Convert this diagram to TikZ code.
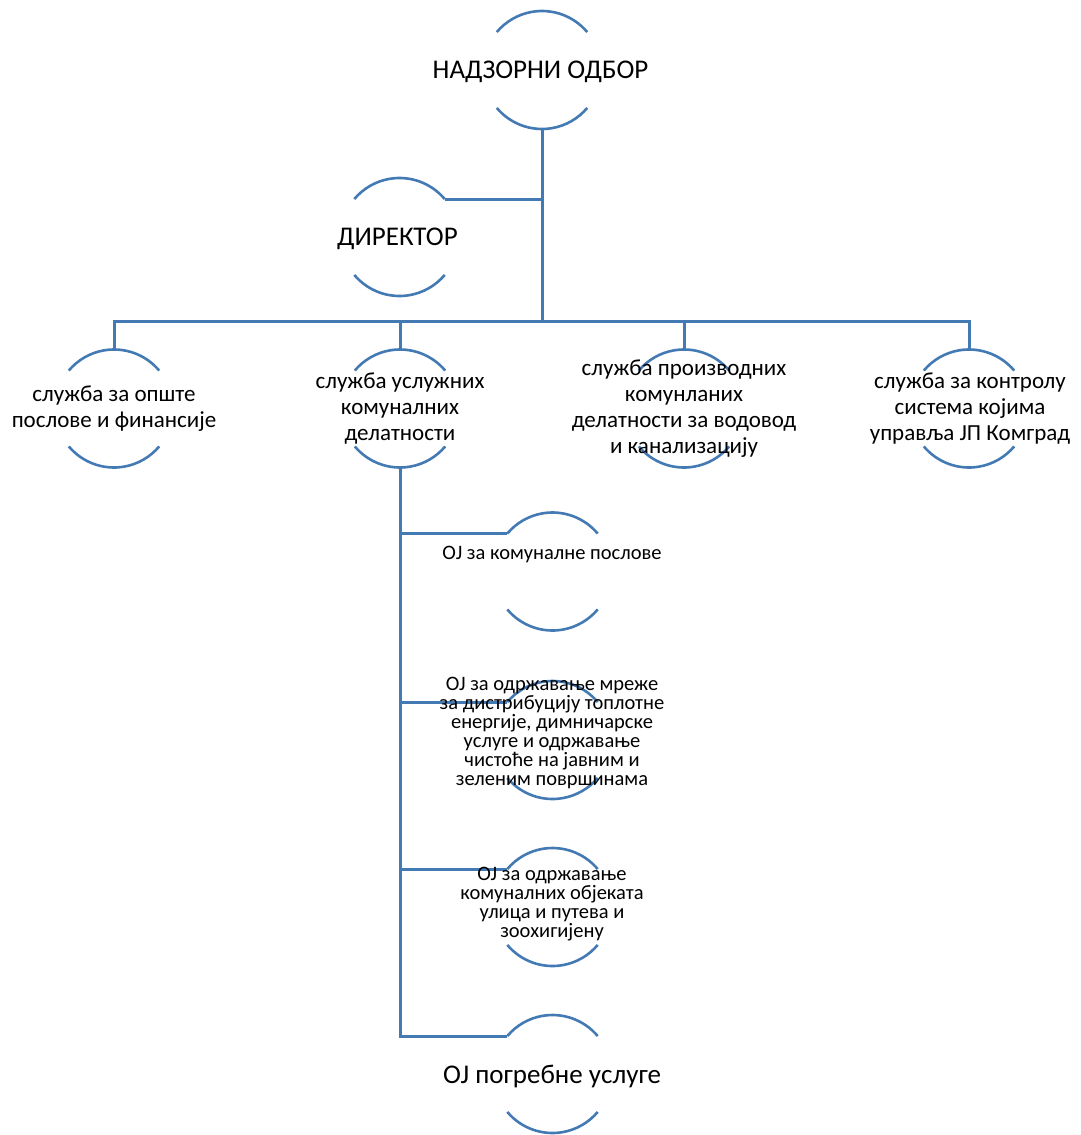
\documentclass[tikz,border=0pt]{standalone}
\usepackage{fontspec}
\setmainfont{Carlito}
\usetikzlibrary{calc}
\definecolor{lineblue}{RGB}{68,122,180}
\tikzset{
  ring/.style={circle, minimum size=118pt, inner sep=0pt, outer sep=0pt},
  arcst/.style={draw=lineblue, line width=2.6pt},
  conn/.style={draw=lineblue, line width=3pt},
  topfont/.style={font=\fontsize{27}{33}\selectfont, inner sep=0pt},
  midfont/.style={font=\fontsize{23}{26}\selectfont, align=center, inner sep=0pt},
  subfont/.style={font=\fontsize{20.5}{19}\selectfont, align=center, inner sep=0pt},
}
\newcommand\ringarcs[1]{%
  \draw[arcst] (#1.40) arc[start angle=40, end angle=140, radius=59pt];
  \draw[arcst] (#1.220) arc[start angle=220, end angle=320, radius=59pt];
}
\begin{document}
\begin{tikzpicture}[x=1pt, y=-1pt]
\useasboundingbox (0,0) rectangle (1081,1135);
% circles
\node[ring] (nadz) at (542,70) {};
\node[ring] (dir) at (399.5,237) {};
\node[ring] (s1) at (114,408.5) {};
\node[ring] (s2) at (400,408.5) {};
\node[ring] (s3) at (684,408.5) {};
\node[ring] (s4) at (969,408.5) {};
\node[ring] (o1) at (552.5,571.5) {};
\node[ring] (o2) at (552.5,740) {};
\node[ring] (o3) at (552.5,907) {};
\node[ring] (o4) at (552.5,1074) {};
\coordinate (bus) at (0,321);
% arcs
\ringarcs{nadz}
\ringarcs{dir}
\ringarcs{s1}
\ringarcs{s2}
\ringarcs{s3}
\ringarcs{s4}
\ringarcs{o1}
\ringarcs{o2}
\ringarcs{o3}
\ringarcs{o4}
% connectors
\draw[conn] (nadz.south) -- (nadz.south |- bus);
\draw[conn] (dir.40) -- (dir.40 -| nadz.south);
\draw[conn] (s1.north) -- (s1.north |- bus) -- (s4.north |- bus) -- (s4.north);
\draw[conn] (s2.north) -- (s2.north |- bus);
\draw[conn] (s3.north) -- (s3.north |- bus);
\draw[conn] (s2.south) -- (s2.south |- o4.140) -- (o4.140);
\draw[conn] (s2.south |- o1.140) -- (o1.140);
\draw[conn] (s2.south |- o2.140) -- (o2.140);
\draw[conn] (s2.south |- o3.140) -- (o3.140);
% texts
\node[topfont, anchor=base] (nadzT) at (540.5,78) {НАДЗОРНИ ОДБОР};
\node[topfont, anchor=base] (dirT) at (397.5,245) {ДИРЕКТОР};
\node[midfont] (t1) at (114,409) {служба за опште\\послове и финансије};
\node[midfont] (t2) at (400,408.5) {служба услужних\\комуналних\\делатности};
\node[midfont] (t3) at (684,409) {служба производних\\комунланих\\делатности за водовод\\и канализацију};
\node[midfont] (t4) at (970,408.5) {служба за контролу\\система којима\\управља ЈП Комград};
\node[subfont, anchor=base] (u1) at (552,559) {ОЈ за комуналне послове};
\node[subfont] (u2) at (552,733) {ОЈ за одржавање мреже\\за дистрибуцију топлотне\\енергије, димничарске\\услуге и одржавање\\чистоће на јавним и\\зеленим површинама};
\node[subfont] (u3) at (552,904.5) {ОЈ за одржавање\\комуналних објеката\\улица и путева и\\зоохигијену};
\node[topfont, anchor=base] (u4) at (552,1083) {ОЈ погребне услуге};
\end{tikzpicture}
\end{document}
